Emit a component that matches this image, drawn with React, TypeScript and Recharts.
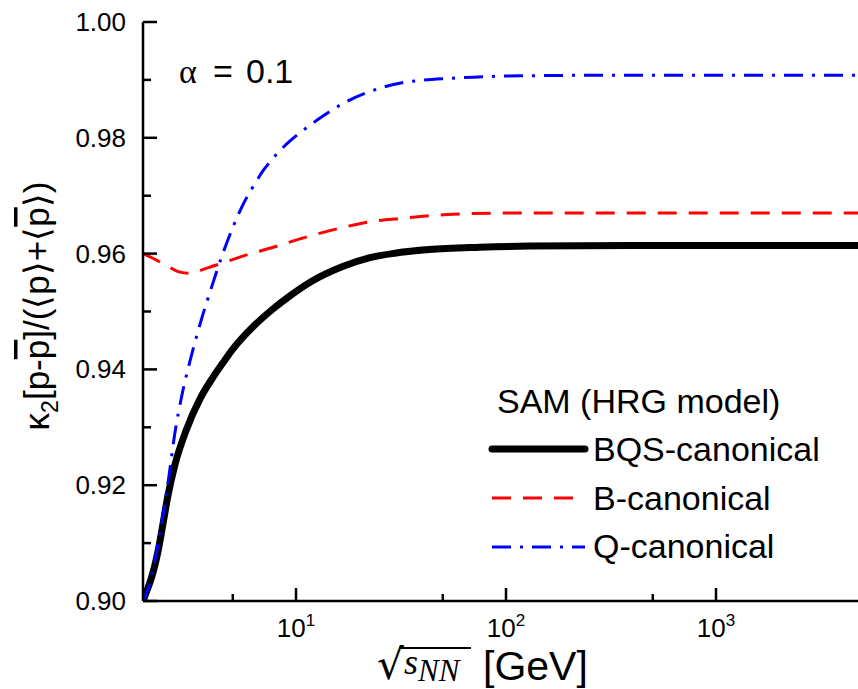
import { Legend, Line, LineChart, XAxis, YAxis } from "recharts"

// sqrt(s_NN) in GeV for each curve
const BQS_X = [1.868, 1.95, 2.05, 2.2, 2.33, 2.45, 2.65, 3.0, 3.5, 4.0, 4.5, 5.0, 6.26, 7.8, 9.36, 12, 16.8, 22.5, 30, 43, 75, 130, 400, 4745]
const BQS_Y = [0.9, 0.9018, 0.904, 0.9085, 0.9135, 0.918, 0.9235, 0.9295, 0.935, 0.9385, 0.9412, 0.9435, 0.9474, 0.9505, 0.9527, 0.9553, 0.9578, 0.9593, 0.9601, 0.9607, 0.9611, 0.9613, 0.9614, 0.9614]

const B_X = [1.868, 2.08, 2.4, 2.8, 3.1, 3.77, 4.5, 5.4, 7.8, 11.3, 16.2, 22.5, 32, 56, 100, 300, 1000, 4745]
const B_Y = [0.96, 0.9592, 0.958, 0.9568, 0.9566, 0.9575, 0.9584, 0.9594, 0.9611, 0.9629, 0.9644, 0.9655, 0.9661, 0.9668, 0.967, 0.967, 0.967, 0.967]

const Q_X = [1.868, 1.98, 2.1, 2.25, 2.47, 2.65, 2.86, 3.13, 3.49, 3.97, 4.43, 5.0, 5.6, 6.3, 7.0, 8.0, 9.2, 11, 13.5, 16.5, 22.5, 32, 56, 116, 300, 4745]
const Q_Y = [0.9, 0.9022, 0.906, 0.9117, 0.921, 0.929, 0.9355, 0.9415, 0.9478, 0.9543, 0.9595, 0.9645, 0.9685, 0.9718, 0.9744, 0.977, 0.9792, 0.9815, 0.9838, 0.9858, 0.988, 0.9895, 0.9903, 0.9907, 0.9908, 0.9908]

const X_TICKS = [5, 10, 50, 100, 500, 1000]
const X_MAJOR = [10, 100, 1000]
const Y_TICKS = [0.9, 0.91, 0.92, 0.93, 0.94, 0.95, 0.96, 0.97, 0.98, 0.99, 1.0]

const toPoints = (xs: number[], ys: number[]) => xs.map((x, i) => ({ x, y: ys[i] }))

const SERIES = [
  { key: "bqs", name: "BQS-canonical", data: toPoints(BQS_X, BQS_Y), stroke: "#000000", width: 7, dash: undefined },
  { key: "b", name: "B-canonical", data: toPoints(B_X, B_Y), stroke: "#ff0000", width: 3, dash: "19 12" },
  { key: "q", name: "Q-canonical", data: toPoints(Q_X, Q_Y), stroke: "#0000ff", width: 3, dash: "19 9 3 9" },
]

const FONT = '"Liberation Sans", Arial, sans-serif'
const SERIF = '"Liberation Serif", "Times New Roman", serif'

const XTick = (props: any) => {
  const { x, y, payload, top } = props
  const v = payload.value
  const major = X_MAJOR.includes(v)
  const len = major ? 13 : 7
  return (
    <g>
      <line x1={x} x2={x} y1={y} y2={top ? y + len : y - len} stroke="#000" strokeWidth={2.5} />
      {!top && major ? (
        <text x={x} y={y + 36} textAnchor="middle" fontFamily={FONT} fontSize={26} fill="#000">
          10
          <tspan dy={-11} fontSize={17}>
            {Math.round(Math.log10(v))}
          </tspan>
        </text>
      ) : null}
    </g>
  )
}

const YTick = (props: any) => {
  const { x, y, payload } = props
  const v = payload.value
  const major = Math.round(v * 100) % 2 === 0
  const len = major ? 14 : 8
  return (
    <g>
      <line x1={x} x2={x + len} y1={y} y2={y} stroke="#000" strokeWidth={2.5} />
      {major ? (
        <text x={x - 17} y={y + 9} textAnchor="end" fontFamily={FONT} fontSize={26} fill="#000">
          {v.toFixed(2)}
        </text>
      ) : null}
    </g>
  )
}

const LegendBox = () => (
  <svg width={370} height={190} style={{ display: "block" }}>
    <text x={13} y={35} fontFamily={FONT} fontSize={34} fill="#000">
      SAM (HRG model)
    </text>
    {SERIES.map((s, i) => (
      <g key={s.key}>
        <line
          x1={8}
          x2={101}
          y1={71 + i * 49}
          y2={71 + i * 49}
          stroke={s.stroke}
          strokeWidth={s.width}
          strokeDasharray={s.dash}
          strokeLinecap={s.dash ? "butt" : "round"}
        />
        <text x={109} y={83 + i * 48.5} fontFamily={FONT} fontSize={34} fill="#000">
          {s.name}
        </text>
      </g>
    ))}
  </svg>
)

export default function App() {
  return (
    <div style={{ position: "relative", width: 858, height: 689 }}>
      <style>{"body{margin:0}"}</style>
      <LineChart width={858} height={689} margin={{ top: 22, right: 0, bottom: 0, left: 0 }}>
        <XAxis
          xAxisId="b"
          dataKey="x"
          type="number"
          scale="log"
          domain={[1.868, 4745]}
          allowDataOverflow
          ticks={X_TICKS}
          interval={0}
          height={88}
          tickSize={0}
          tickMargin={0}
          tickLine={false}
          axisLine={{ stroke: "#000", strokeWidth: 2.5 }}
          tick={<XTick />}
        />
        <XAxis
          xAxisId="t"
          orientation="top"
          dataKey="x"
          type="number"
          scale="log"
          domain={[1.868, 4745]}
          allowDataOverflow
          ticks={X_TICKS}
          interval={0}
          height={0}
          tickSize={0}
          tickMargin={0}
          tickLine={false}
          axisLine={{ stroke: "#000", strokeWidth: 2.5 }}
          tick={<XTick top />}
        />
        <YAxis
          dataKey="y"
          type="number"
          domain={[0.9, 1.0]}
          allowDataOverflow
          ticks={Y_TICKS}
          interval={0}
          width={143}
          tickSize={0}
          tickMargin={0}
          tickLine={false}
          axisLine={{ stroke: "#000", strokeWidth: 2.5 }}
          tick={<YTick />}
        />
        <Legend
          layout="vertical"
          align="center"
          verticalAlign="middle"
          width={370}
          height={190}
          wrapperStyle={{ left: 484, top: 378, width: 370, height: 190 }}
          content={<LegendBox />}
        />
        {SERIES.map((s) => (
          <Line
            key={s.key}
            xAxisId="b"
            data={s.data}
            dataKey="y"
            name={s.name}
            type="monotone"
            stroke={s.stroke}
            strokeWidth={s.width}
            strokeDasharray={s.dash}
            dot={false}
            activeDot={false}
            isAnimationActive={false}
          />
        ))}
      </LineChart>
      <svg
        width={858}
        height={689}
        style={{ position: "absolute", left: 0, top: 0, pointerEvents: "none" }}
      >
        <text y={83} fontSize={34} fill="#000" fontFamily={FONT}>
          <tspan x={179} fontFamily={SERIF}>α</tspan>
          <tspan x={213}>=</tspan>
          <tspan x={246}>0.1</tspan>
        </text>
        <text
          transform="translate(49 306) rotate(-90)"
          textAnchor="middle"
          fontFamily={FONT}
          fontSize={35}
          fill="#000"
        >
          κ<tspan dy={9} fontSize={23}>2</tspan>
          <tspan dy={-9}>[p-</tspan>
          <tspan textDecoration="overline">p</tspan>]/(⟨p⟩+⟨<tspan textDecoration="overline">p</tspan>⟩)
        </text>
        <text x={377} y={679} fontFamily='"DejaVu Sans", sans-serif' fontSize={42} fill="#000">
          √
        </text>
        <line x1={399} x2={471} y1={648} y2={648} stroke="#000" strokeWidth={2} />
        <text x={404} y={674} fontFamily={SERIF} fontStyle="italic" fontSize={36} fill="#000">
          s<tspan dy={7} fontSize={31}>NN</tspan>
        </text>
        <text x={483} y={680} fontFamily={FONT} fontSize={41} fill="#000">
          [GeV]
        </text>
      </svg>
    </div>
  )
}
